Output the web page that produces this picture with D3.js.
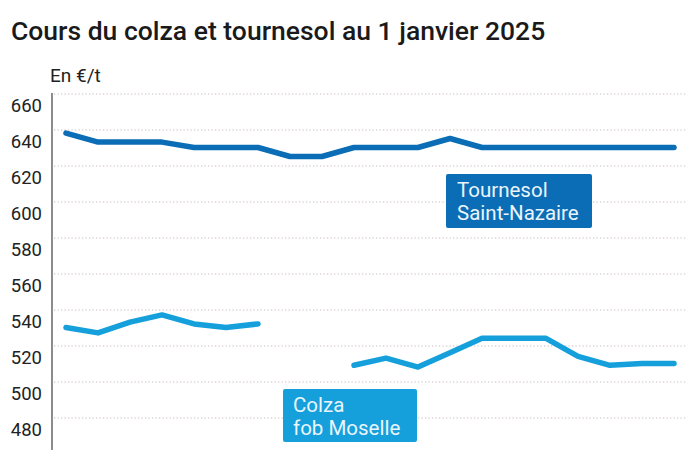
<!DOCTYPE html>
<html><head><meta charset="utf-8">
<script src="https://cdn.jsdelivr.net/npm/d3@7"></script>
<style>html,body{margin:0;padding:0;background:#fff;}svg{display:block;font-family:Roboto,"Noto Sans",sans-serif;}</style>
</head><body>
<svg id="c" width="700" height="450"></svg>
<script>
const points = d3.range(20);
const tournesol = [638,633,633,633,630,630,630,625,625,630,630,630,635,630,630,630,630,630,630,630];
const colza = [530,527,533,537,532,530,532,null,null,509,513,508,516,524,524,524,514,509,510,510];
const yTicks = [480,500,520,540,560,580,600,620,640,660];
const title = "Cours du colza et tournesol au 1 janvier 2025";
const unit = "En €/t";
const labels = [
  {name:["Tournesol","Saint-Nazaire"], color:"#0b6db5"},
  {name:["Colza","fob Moselle"], color:"#15a0dc"}
];

const svg = d3.select("#c");
const x = d3.scaleLinear().domain([0,19]).range([66,674]);
const y = d3.scaleLinear().domain([480,660]).range([417.5,93.5]);

svg.append("text").attr("x",11).attr("y",40).attr("font-size",26.5).attr("font-weight",500).attr("fill","#1a1a1a").text(title);
svg.append("text").attr("x",50).attr("y",82).attr("font-size",19).attr("fill","#222").text(unit);

const yAxis = d3.axisLeft(y).tickValues(yTicks).tickSize(0).tickPadding(0);
const g = svg.append("g").attr("transform","translate(52,0)").call(yAxis);
g.select(".domain").remove();
g.selectAll(".tick text").attr("x",-10).attr("dy","0.95em").attr("font-size",18.5).attr("font-family","Roboto").attr("fill","#222");
g.selectAll(".tick").append("line").attr("x1",2).attr("x2",635).attr("stroke","#c9b9b9").attr("stroke-width",1.2).attr("stroke-dasharray","1.2,2.3");
svg.append("line").attr("x1",52).attr("x2",52).attr("y1",93).attr("y2",450).attr("stroke","#666").attr("stroke-width",1.5);

const line = d3.line().defined(d=>d[1]!=null).x(d=>x(d[0])).y(d=>y(d[1]));
[tournesol, colza].forEach((s,i)=>{
  svg.append("path").datum(points.map(p=>[p,s[p]])).attr("d",line)
    .attr("fill","none").attr("stroke",labels[i].color).attr("stroke-width",5.5)
    .attr("stroke-linecap","round").attr("stroke-linejoin","round");
});

const boxes = [{x0:446,y0:174,w:146,h:54,tx:457},{x0:283,y0:389,w:134,h:53,tx:293}];
boxes.forEach((b,i)=>{
  svg.append("rect").attr("x",b.x0).attr("y",b.y0).attr("width",b.w).attr("height",b.h).attr("rx",2).attr("fill",labels[i].color);
  labels[i].name.forEach((t,j)=>{
    svg.append("text").attr("x",b.tx).attr("y",b.y0+23+j*22.5).attr("font-size",20.5).attr("fill","#eaf5fc").text(t);
  });
});
</script>
</body></html>
